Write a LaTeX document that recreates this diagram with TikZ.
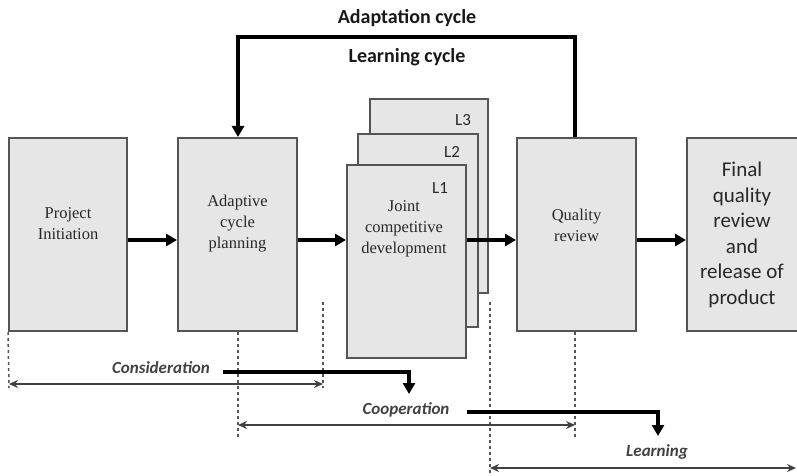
\documentclass[tikz,border=0pt]{standalone}
\usepackage{fontspec}
\setmainfont{Liberation Serif}
\newfontfamily\calib{Carlito}
\usetikzlibrary{arrows.meta}
\definecolor{boxfill}{RGB}{230,230,230}
\definecolor{boxline}{RGB}{85,85,85}
\definecolor{txt}{RGB}{40,40,40}
\definecolor{rangecol}{RGB}{65,65,65}
\begin{document}
\begin{tikzpicture}[x=1pt,y=-1pt,
  box/.style={draw=boxline, fill=boxfill, line width=2pt, minimum width=118pt, minimum height=193pt, inner sep=0pt},
  serif/.style={font=\fontsize{16.5}{21}\selectfont, text=txt, align=center, inner sep=0pt},
  sans/.style={font=\calib\fontsize{21}{25.5}\selectfont, text=txt, align=center, inner sep=0pt},
  lvl/.style={font=\calib\fontsize{17}{20}\selectfont, text=txt, inner sep=0pt},
  title/.style={font=\calib\bfseries\fontsize{20}{24}\selectfont, text=black!90, inner sep=0pt},
  phase/.style={font=\calib\bfseries\itshape\fontsize{17}{20}\selectfont, text=rangecol, inner sep=0pt},
  flow/.style={line width=3.2pt, black, -{Triangle[length=11pt,width=12pt]}},
  span/.style={line width=1.4pt, rangecol, {Stealth[length=9pt,width=8pt]}-{Stealth[length=9pt,width=8pt]}},
  guide/.style={line width=1.5pt, boxline, dash pattern=on 3pt off 3pt}
]
\useasboundingbox (0,0) rectangle (797,476);
\clip (0,0) rectangle (797,476);

% boxes
\node[box] (pi) at (68,234.5) {};
\node[box, minimum width=119pt] (acp) at (237.5,234.5) {};
\node[box] (L3) at (429,196) {};
\node[box, minimum width=120pt] (L2) at (418,230) {};
\node[box, minimum width=119pt] (L1) at (406.5,261.5) {};
\node[box, minimum width=119pt] (qr) at (576.5,234.5) {};
\node[box, minimum width=123pt] (fin) at (748.5,234.5) {};

% box texts
\node[serif] (pit) at (68,224) {Project\\Initiation};
\node[serif] (acpt) at (237.5,224) {Adaptive\\cycle\\planning};
\node[serif] (L1t) at (404,229) {Joint\\competitive\\development};
\node[serif] (qrt) at (576.5,225) {Quality\\review};
\node[sans] (fint) at (742,235) {Final\\quality\\review\\and\\release of\\product};
\node[lvl] (l3t) at (463,120) {L3};
\node[lvl] (l2t) at (452,152) {L2};
\node[lvl] (l1t) at (440,188) {L1};

% titles
\node[title] (adc) at (407,18) {Adaptation cycle};
\node[title] (lec) at (407,57) {Learning cycle};

% main row arrows
\coordinate (row) at (0,240);
\draw[flow] (pi.east |- row) -- (acp.west |- row);
\draw[flow] (acp.east |- row) -- (L1.west |- row);
\draw[flow] (L1.east |- row) -- (qr.west |- row);
\draw[flow] (qr.east |- row) -- (fin.west |- row);

% feedback loop
\coordinate (topr) at (575,37);
\coordinate (topl) at (238,37);
\draw[flow] (qr.north -| topr) -- (topr) -- (topl) -- (acp.north -| topl);

% guide lines
\coordinate (g1b) at (9,388);
\coordinate (g2b) at (238,438);
\coordinate (g3t) at (323,302);
\coordinate (g3b) at (323,388);
\coordinate (g4b) at (575,438);
\coordinate (g5t) at (490,302);
\coordinate (g5b) at (490,476);
\draw[guide] (pi.south west) -- (g1b);
\draw[guide] (acp.south -| g2b) -- (g2b);
\draw[guide] (g3t) -- (g3b);
\draw[guide] (qr.south -| g4b) -- (g4b);
\draw[guide] (g5t) -- (g5b);

% ranges
\coordinate (r1a) at (9,384);
\coordinate (r1b) at (323,384);
\coordinate (r2a) at (238,425);
\coordinate (r2b) at (575,425);
\coordinate (r3a) at (490,468);
\coordinate (r3b) at (796,468);
\draw[span] (r1a) -- (r1b);
\draw[span] (r2a) -- (r2b);
\draw[span] (r3a) -- (r3b);

% phases
\node[phase] (cons) at (161,368) {Consideration};
\node[phase] (coop) at (406,410) {Cooperation};
\node[phase] (lear) at (657,452) {Learning};
\coordinate (c1s) at (223,372);
\coordinate (c1e) at (409,394);
\coordinate (c2s) at (467,412);
\coordinate (c2e) at (658,436);
\draw[flow] (c1s) -| (c1e);
\draw[flow] (c2s) -| (c2e);
\end{tikzpicture}
\end{document}
